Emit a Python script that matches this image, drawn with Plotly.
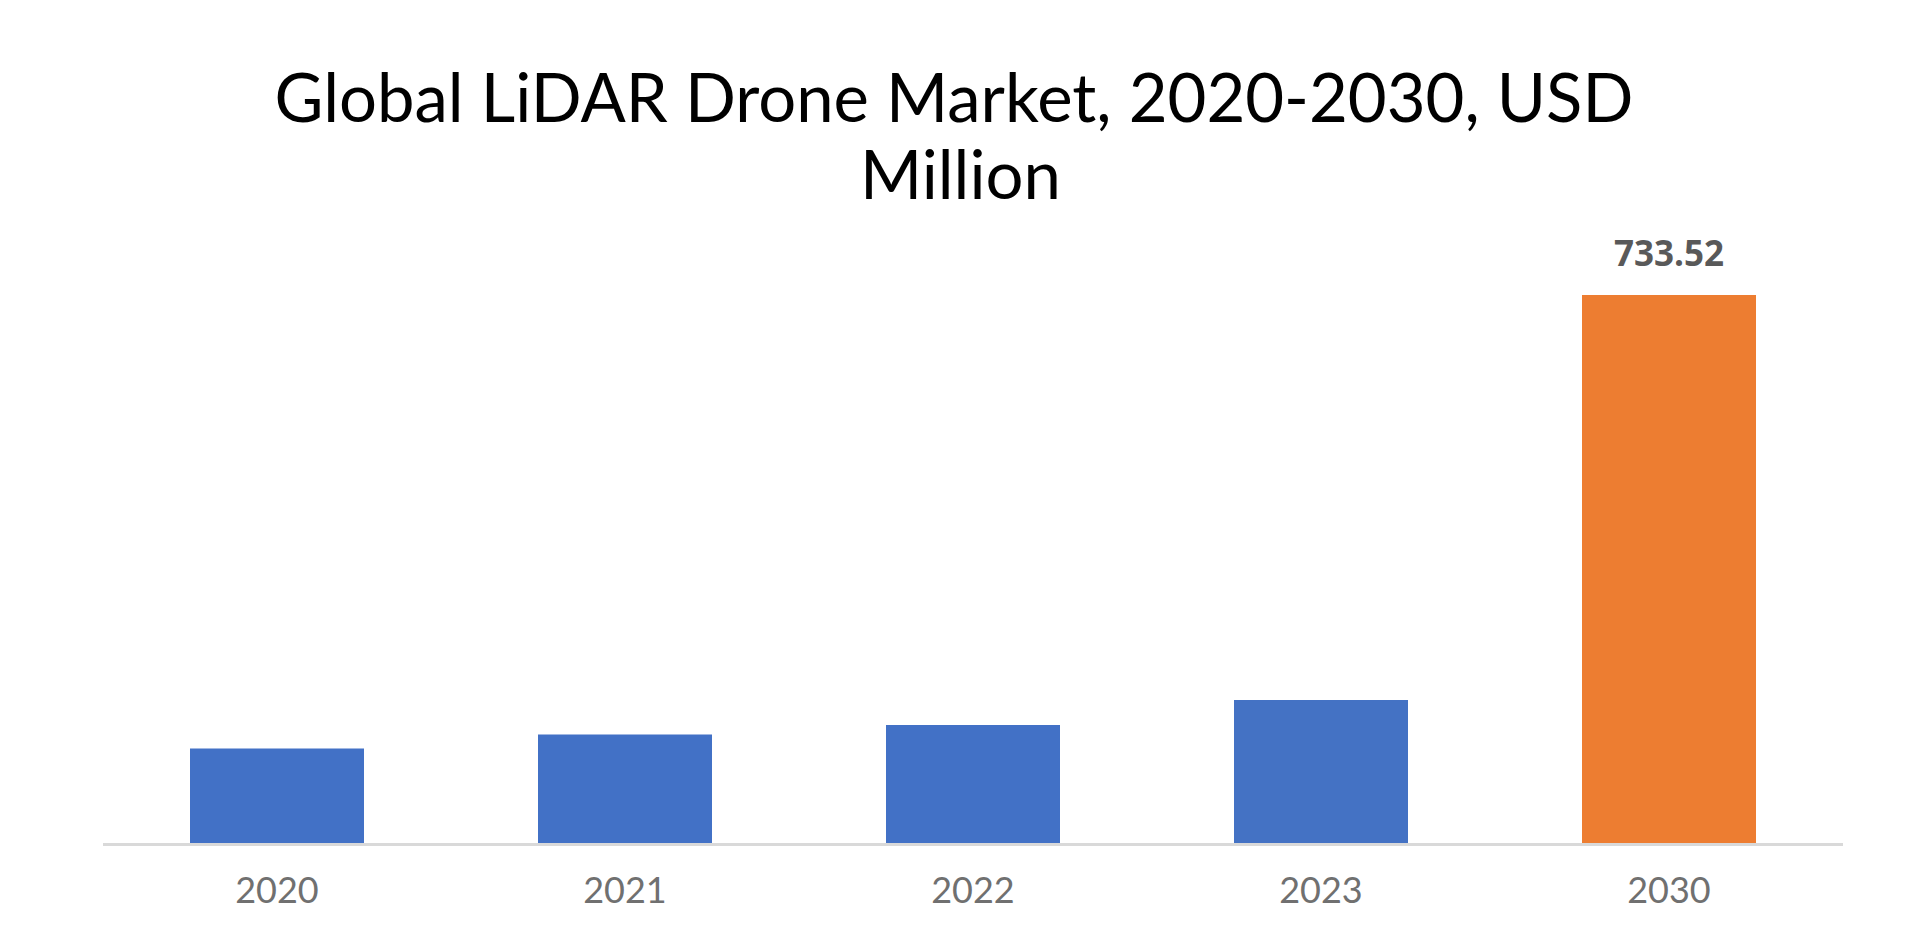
import plotly.graph_objects as go

years = ["2020", "2021", "2022", "2023", "2030"]
values = [126.5, 145.2, 157.9, 191.4, 733.52]
bar_colors = ["#4271C6", "#4271C6", "#4271C6", "#4472C4", "#ED7D31"]
label_year = "2030"
label_value = 733.52
label_text = "733.52"

title_line1 = "Global LiDAR Drone Market, 2020-2030, USD"
title_line2 = "Million"

W, H = 1920, 943
# page body has an 8px default margin, so offsets are compensated
ml, mr, mt, mb = 95, 85, 192, 108
plot_h = H - mt - mb

fig = go.Figure()
fig.add_trace(go.Bar(
    x=years, y=values,
    marker=dict(color=bar_colors, line=dict(width=0)),
    hoverinfo="x+y",
))

fig.add_annotation(
    x=years.index(label_year), y=label_value, xref="x", yref="y",
    text="<b>" + label_text + "</b>", showarrow=False,
    yanchor="middle", yshift=43,
    font=dict(family="Open Sans", size=35, color="#595959"),
)

fig.add_annotation(
    x=946 / W, y=(H - mb - 165) / plot_h, xref="paper", yref="paper",
    text=title_line2, showarrow=False, xanchor="center", yanchor="middle",
    font=dict(family="Lato", size=67, color="#000000"),
)

fig.update_layout(
    width=W, height=H,
    margin=dict(l=ml, r=mr, t=mt, b=mb),
    paper_bgcolor="white", plot_bgcolor="white",
    bargap=0.5,
    showlegend=False,
    title=dict(
        text=title_line1, x=946 / W, xanchor="center",
        y=1 - 91 / H, yanchor="middle", xref="container", yref="container",
        font=dict(family="Lato", size=67, color="#000000"),
    ),
    xaxis=dict(
        type="category", range=[-0.5, 4.5],
        showline=True, linecolor="#D9D9D9", linewidth=3,
        ticks="", showgrid=False, zeroline=False,
        tickfont=dict(family="Lato", size=36, color="#707070"),
        ticklabelstandoff=14,
    ),
    yaxis=dict(
        range=[0, plot_h / (548.0 / 733.52)],
        visible=False, showgrid=False, zeroline=False,
    ),
)

fig.write_html("out.html")
